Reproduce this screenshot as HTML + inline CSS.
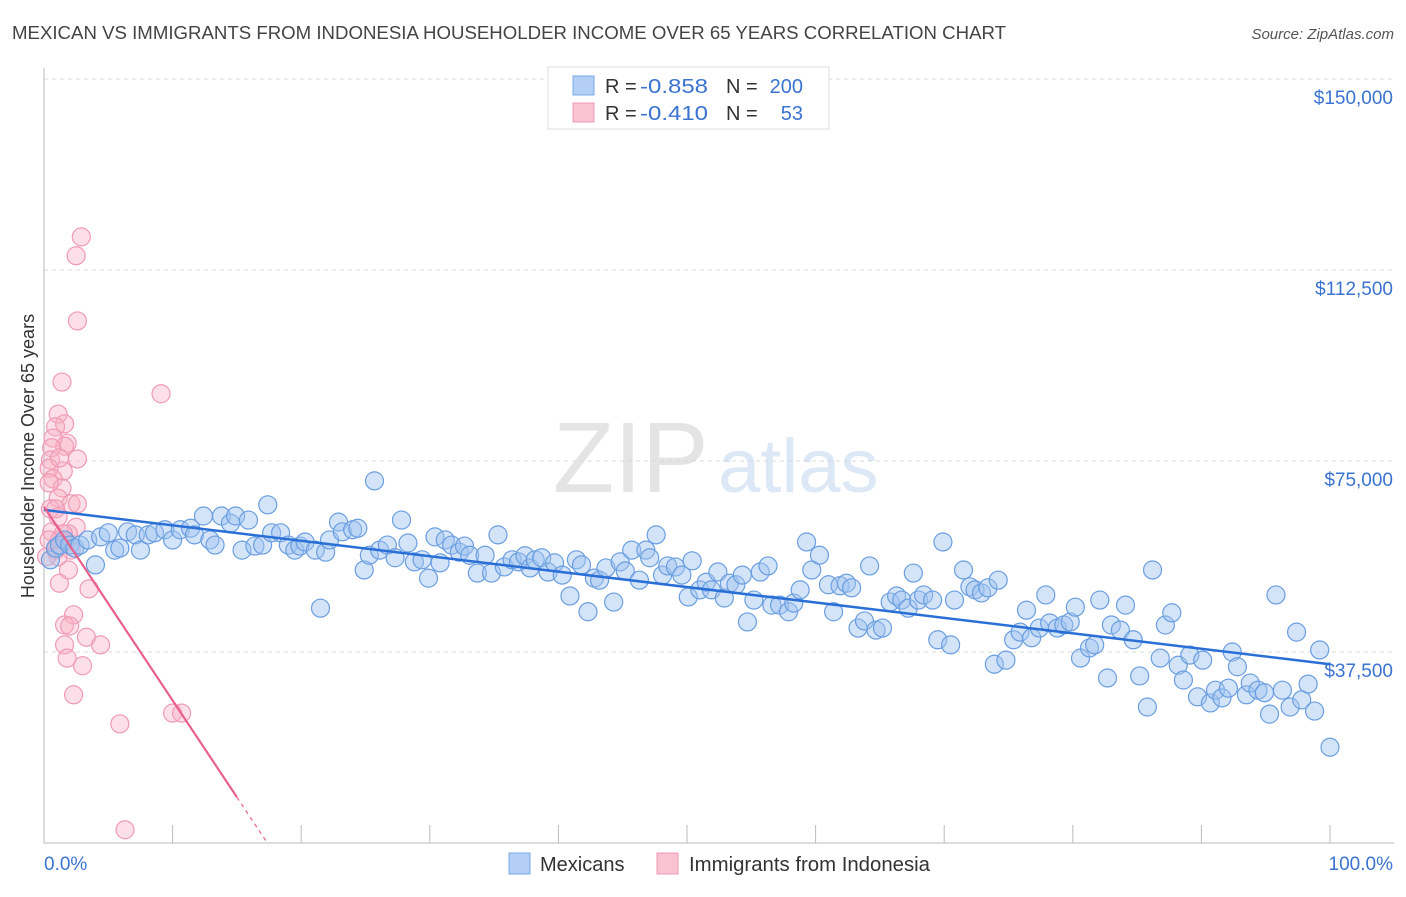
<!DOCTYPE html>
<html><head><meta charset="utf-8"><style>
body{margin:0;background:#fff;font-family:"Liberation Sans",sans-serif}
svg text{font-family:"Liberation Sans",sans-serif}
</style></head><body>
<svg id="chart" width="1406" height="892" viewBox="0 0 1406 892" xmlns="http://www.w3.org/2000/svg">
<text x="12" y="39" font-size="18" fill="#444" textLength="994" lengthAdjust="spacingAndGlyphs">MEXICAN VS IMMIGRANTS FROM INDONESIA HOUSEHOLDER INCOME OVER 65 YEARS CORRELATION CHART</text>
<text x="1394" y="39" font-size="15" fill="#555" font-style="italic" text-anchor="end">Source: ZipAtlas.com</text>
<text x="553" y="492" font-size="100" fill="#e4e4e4" font-family="Liberation Serif, serif">ZIP</text>
<text x="718" y="492" font-size="76" fill="#dde8f7">atlas</text>
<g id="grid"></g>
<g id="axes"></g>
<g id="pink"></g>
<g id="blue"></g>
<g id="trends"></g>
<text transform="translate(34,456) rotate(-90)" font-size="18" fill="#333" text-anchor="middle">Householder Income Over 65 years</text>
<g>
<rect x="548" y="67" width="281" height="62" fill="#fff" stroke="#ddd"/>
<rect x="573" y="76" width="21" height="19" fill="#b4cff5" stroke="#7aa8e8"/>
<rect x="573" y="103" width="21" height="19" fill="#f9c3d3" stroke="#f09ab5"/>
<text x="605" y="93" font-size="20" fill="#333">R =</text>
<text x="640" y="93" font-size="20" fill="#3a73d0" textLength="68" lengthAdjust="spacingAndGlyphs">-0.858</text>
<text x="726" y="93" font-size="20" fill="#333">N =</text>
<text x="803" y="93" font-size="20" fill="#3a73d0" text-anchor="end">200</text>
<text x="605" y="120" font-size="20" fill="#333">R =</text>
<text x="640" y="120" font-size="20" fill="#3a73d0" textLength="68" lengthAdjust="spacingAndGlyphs">-0.410</text>
<text x="726" y="120" font-size="20" fill="#333">N =</text>
<text x="803" y="120" font-size="20" fill="#3a73d0" text-anchor="end">53</text>
</g>
<g>
<rect x="509" y="853" width="21" height="21" fill="#b4cff5" stroke="#7aa8e8"/>
<text x="540" y="871" font-size="20" fill="#333">Mexicans</text>
<rect x="657" y="853" width="21" height="21" fill="#f9c3d3" stroke="#f09ab5"/>
<text x="689" y="871" font-size="20" fill="#333" textLength="241" lengthAdjust="spacingAndGlyphs">Immigrants from Indonesia</text>
</g>
</svg>
<script>
const yTicks=[37500,75000,112500,150000];
const yTickLabels=["$37,500","$75,000","$112,500","$150,000"];
const xTicks=[0,10,20,30,40,50,60,70,80,90,100];
const blueX=[0.5,0.9,1.2,1.6,2.0,2.4,2.8,3.4,4.0,4.4,5.0,5.5,5.9,6.5,7.1,7.5,8.1,8.6,9.4,10.0,10.6,11.4,11.7,12.4,12.9,13.3,13.8,14.5,14.9,15.4,15.9,16.4,17.0,17.4,17.7,18.4,19.0,19.5,19.9,20.3,21.1,21.5,21.9,22.2,22.9,23.2,24.0,24.4,24.9,25.3,25.7,26.1,26.7,27.3,27.8,28.3,28.8,29.4,29.9,30.4,30.8,31.2,31.7,32.3,32.7,33.1,33.7,34.3,34.8,35.3,35.8,36.4,36.9,37.4,37.8,38.2,38.7,39.2,39.7,40.3,40.9,41.4,41.8,42.3,42.8,43.2,43.7,44.3,44.8,45.2,45.7,46.3,46.8,47.1,47.6,48.1,48.5,49.1,49.6,50.1,50.4,51.0,51.5,51.9,52.4,52.9,53.3,53.8,54.3,54.7,55.2,55.7,56.3,56.6,57.2,57.9,58.3,58.8,59.3,59.7,60.3,61.0,61.4,61.9,62.4,62.8,63.3,63.8,64.2,64.7,65.2,65.8,66.3,66.7,67.2,67.6,68.0,68.4,69.1,69.5,69.9,70.5,70.8,71.5,72.0,72.4,72.9,73.4,73.9,74.2,74.8,75.4,75.9,76.4,76.8,77.4,77.9,78.2,78.8,79.3,79.8,80.2,80.6,81.3,81.7,82.1,82.7,83.0,83.7,84.1,84.7,85.2,85.8,86.2,86.8,87.2,87.7,88.2,88.6,89.1,89.7,90.1,90.7,91.1,91.6,92.1,92.4,92.8,93.5,93.8,94.4,94.9,95.3,95.8,96.3,96.9,97.4,97.8,98.3,98.8,99.2,100];
const blueY=[55.6,57.9,58.5,59.5,58.5,57.9,58.5,59.5,54.6,60.1,60.9,57.5,57.9,61.1,60.5,57.5,60.5,60.9,61.5,59.5,61.5,61.8,60.5,64.2,59.5,58.5,64.2,62.8,64.2,57.5,63.4,58.3,58.5,66.4,60.9,60.9,58.5,57.5,58.3,59.1,57.5,46.1,57.1,59.5,63.0,61.1,61.5,61.8,53.6,56.5,71.1,57.5,58.5,56.0,63.4,58.9,55.2,55.6,52.0,60.1,55.0,59.5,58.5,57.1,58.3,56.5,53.0,56.5,53.0,60.5,54.2,55.6,55.2,56.4,54.0,55.6,56.0,53.2,55.0,52.6,48.5,55.6,54.6,45.4,52.0,51.6,54.0,47.3,55.2,53.4,57.5,51.6,57.5,56.0,60.5,52.6,54.4,54.2,52.6,48.3,55.4,49.7,51.2,49.7,53.2,48.1,51.0,50.7,52.6,43.4,47.7,53.2,54.4,46.7,46.7,45.4,47.1,49.7,59.1,53.6,56.5,50.7,45.4,50.5,51.0,50.1,42.2,43.6,54.4,41.8,42.2,47.3,48.5,47.7,46.1,53.0,47.7,48.7,47.7,39.9,59.1,38.9,47.7,53.6,50.3,49.7,49.1,50.1,35.1,51.6,35.9,39.9,41.4,45.7,40.3,42.2,48.7,43.2,42.2,42.8,43.4,46.3,36.3,38.3,38.9,47.7,32.4,42.8,41.8,46.7,39.9,32.8,26.7,53.6,36.3,42.8,45.2,34.9,32.0,36.9,28.7,35.9,27.5,30.0,28.5,30.4,37.5,34.6,29.1,31.4,30.0,29.5,25.3,48.7,30.0,26.7,41.4,28.1,31.2,25.9,37.9,18.8];
const pinkX=[2.9,2.5,2.6,1.4,9.1,1.1,1.6,0.9,1.8,1.6,0.7,0.6,2.6,0.5,1.5,0.4,0.7,1.4,1.1,2.1,0.5,1.1,2.5,0.6,1.2,1.9,0.9,2.1,1.1,1.2,3.5,2.3,1.6,2.0,3.3,4.4,1.6,1.8,3.0,2.3,5.9,10.0,10.7,6.3,0.4,0.9,1.5,0.2,0.4,1.7,2.6,1.2,1.9];
const pinkY=[119.0,115.3,102.5,90.5,88.2,84.2,82.3,81.7,78.5,77.9,79.5,77.6,75.4,75.2,73.0,73.6,71.5,69.7,67.7,66.6,65.6,64.0,62.0,61.1,59.5,60.7,57.5,57.5,56.2,51.0,49.9,44.8,42.8,42.6,40.4,38.9,38.9,36.3,34.8,29.1,23.4,25.5,25.5,2.6,70.7,65.6,60.7,56.2,59.5,59.1,66.6,75.6,53.6];
const blueTrend=[65.4,35.1];
const pinkTrend=[66.0,-3.8];
const pinkSolidEnd=15.0, pinkDashEnd=17.4;

const NS="http://www.w3.org/2000/svg";
const X0=44,X1=1330,YB=843,YPX=191/37500;
const sx=v=>X0+(X1-X0)*v/100;
const sy=v=>YB-v*YPX;
function mk(tag,attrs,parent){const e=document.createElementNS(NS,tag);for(const k in attrs)e.setAttribute(k,attrs[k]);parent.appendChild(e);return e;}
const grid=document.getElementById('grid'),axes=document.getElementById('axes');
yTicks.forEach((t,i)=>{
  const l=mk('line',{x1:X0,x2:1394,y1:sy(t),y2:sy(t),stroke:'#d8d8d8','stroke-dasharray':'4,4'},grid);
  
  
  const tx=mk('text',{x:1393,y:sy(t)+25,'font-size':19,fill:'#3a73d0','text-anchor':'end'},axes);
  tx.textContent=yTickLabels[i];
  
  
});
const ax=mk('path',{d:`M${X0},68V${YB}H1394`,stroke:'#bbb',fill:'none'},axes);


xTicks.forEach(t=>{
  const l=mk('line',{x1:sx(t),x2:sx(t),y1:YB-18,y2:YB,stroke:'#bbb'},axes);
  
  
});
const xl0=mk('text',{x:44,y:870,'font-size':19,fill:'#3a73d0'},axes);xl0.textContent='0.0%';


const xl1=mk('text',{x:1393,y:870,'font-size':19,fill:'#3a73d0','text-anchor':'end'},axes);xl1.textContent='100.0%';


const pg=document.getElementById('pink');
pinkX.forEach((x,i)=>{
  const c=mk('circle',{cx:sx(x),cy:sy(pinkY[i]*1000),r:9,fill:'rgba(248,175,198,0.4)',stroke:'#f09ab5','stroke-width':1.2},pg);
  
  
});
const bg=document.getElementById('blue');
blueX.forEach((x,i)=>{
  const c=mk('circle',{cx:sx(x),cy:sy(blueY[i]*1000),r:9,fill:'rgba(160,196,240,0.45)',stroke:'#6a9ee0','stroke-width':1.2},bg);
  
  
});
const tg=document.getElementById('trends');
const bt=mk('line',{x1:sx(0),y1:sy(blueTrend[0]*1000),x2:sx(100),y2:sy(blueTrend[1]*1000),stroke:'#2a6fd6','stroke-width':2.5},tg);


const py=x=>(pinkTrend[0]+pinkTrend[1]*x)*1000;
const pt=mk('line',{x1:sx(0),y1:sy(py(0)),x2:sx(pinkSolidEnd),y2:sy(py(pinkSolidEnd)),stroke:'#e8608e','stroke-width':2.2},tg);


const pd=mk('line',{x1:sx(pinkSolidEnd),y1:sy(py(pinkSolidEnd)),x2:sx(pinkDashEnd),y2:sy(py(pinkDashEnd)),stroke:'#e8608e','stroke-width':1.2,'stroke-dasharray':'4,4'},tg);


</script>
</body></html>
